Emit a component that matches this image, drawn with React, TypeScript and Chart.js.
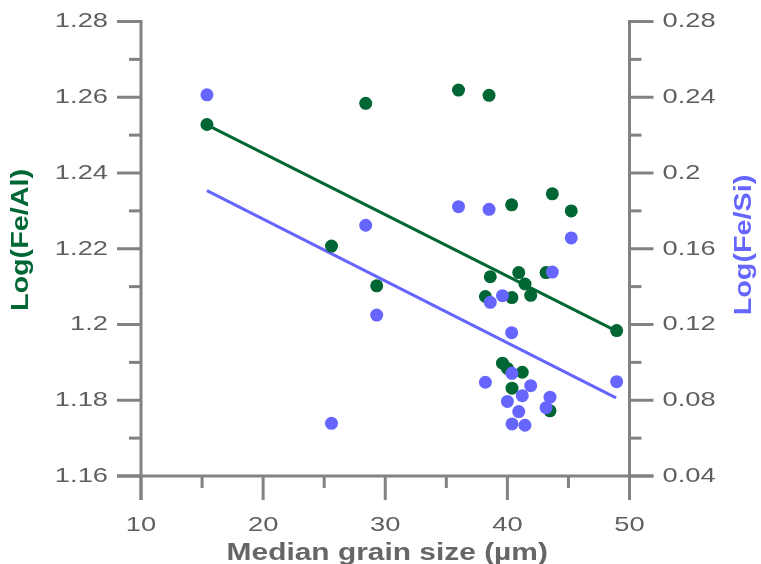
import React, { useEffect, useRef } from 'react';
import { Chart, registerables } from 'chart.js';

Chart.register(...registerables);

// Median grain size of each sample (µm)
const grainSize = [
  15.4, 25.6, 28.4, 29.3, 36.0, 38.2, 38.5, 38.6, 39.6, 40.0, 40.35,
  40.37, 40.38, 40.93, 41.22, 41.44, 41.91, 43.17, 43.49, 43.68, 45.23, 48.95,
];

// Log(Fe/Al) for each sample
const logFeAl = [
  1.2528, 1.2207, 1.2584, 1.2102, 1.2619, 1.2074, 1.2605, 1.2126, 1.1898, 1.1884, 1.2316,
  1.2071, 1.1832, 1.2137, 1.1874, 1.2107, 1.2077, 1.2137, 1.1772, 1.2345, 1.23, 1.1984,
];

// Log(Fe/Si) for each sample
const logFeSi = [
  0.2413, 0.0678, 0.1724, 0.125, 0.1822, 0.0895, 0.1808, 0.1317, 0.1352, 0.0794, 0.1157,
  0.0942, 0.0675, 0.074, 0.0824, 0.0668, 0.0877, 0.0761, 0.0816, 0.1477, 0.1657, 0.0898,
];

// Linear trend lines: end points
const trendGrain = [15.4, 48.9];
const trendFeAl = [1.2527, 1.1983];
const trendFeSi = [0.1907, 0.0813];

// Axis ticks
const xTicks = [10, 20, 30, 40, 50];
const xMinorTicks = [15, 25, 35, 45];
const feAlTicks = [1.16, 1.18, 1.2, 1.22, 1.24, 1.26, 1.28];
const feAlTickLabels = ['1.16', '1.18', '1.2', '1.22', '1.24', '1.26', '1.28'];
const feAlMinorTicks = [1.17, 1.19, 1.21, 1.23, 1.25, 1.27];
const feSiTicks = [0.04, 0.08, 0.12, 0.16, 0.2, 0.24, 0.28];
const feSiTickLabels = ['0.04', '0.08', '0.12', '0.16', '0.2', '0.24', '0.28'];
const feSiMinorTicks = [0.06, 0.1, 0.14, 0.18, 0.22, 0.26];

const GREEN = '#006633';
const BLUE = '#6666ff';
const AXIS = '#828282';
const TEXT = '#5f5f5f';
const FONT = '"Liberation Sans", Arial, sans-serif';
const TEXT_STRETCH = 1.3;

function drawText(
  ctx: CanvasRenderingContext2D,
  text: string,
  x: number,
  y: number,
  opts: { font: string; color: string; align: CanvasTextAlign; rotate?: number; stretch?: number },
) {
  ctx.save();
  ctx.translate(x, y);
  if (opts.rotate) ctx.rotate(opts.rotate);
  ctx.scale(opts.stretch ?? TEXT_STRETCH, 1);
  ctx.font = opts.font;
  ctx.fillStyle = opts.color;
  ctx.textAlign = opts.align;
  ctx.textBaseline = 'middle';
  ctx.fillText(text, 0, 0);
  ctx.restore();
}

const axesPlugin = {
  id: 'customAxes',
  beforeDatasetsDraw(chart: any) {
    const { ctx, chartArea, scales } = chart;
    const xs = scales.x;
    const yl = scales.y;
    const yr = scales.y1;
    const left = chartArea.left;
    const right = chartArea.right;
    const top = chartArea.top;
    const bottom = chartArea.bottom;
    const major = 24;
    const minor = 12;

    ctx.save();
    ctx.strokeStyle = AXIS;
    ctx.lineWidth = 3;
    ctx.lineCap = 'butt';
    const line = (x1: number, y1: number, x2: number, y2: number) => {
      ctx.beginPath();
      ctx.moveTo(x1, y1);
      ctx.lineTo(x2, y2);
      ctx.stroke();
    };

    // axis spines
    line(left, top - 1.5, left, bottom + major);
    line(right, top - 1.5, right, bottom + major);
    line(left - major, bottom, right + major, bottom);

    // left axis ticks
    feAlTicks.forEach((v) => {
      const y = yl.getPixelForValue(v);
      line(left - major, y, left, y);
    });
    feAlMinorTicks.forEach((v) => {
      const y = yl.getPixelForValue(v);
      line(left - minor, y, left, y);
    });
    // right axis ticks
    feSiTicks.forEach((v) => {
      const y = yr.getPixelForValue(v);
      line(right, y, right + major, y);
    });
    feSiMinorTicks.forEach((v) => {
      const y = yr.getPixelForValue(v);
      line(right, y, right + minor, y);
    });
    // bottom axis ticks
    xTicks.forEach((v) => {
      const x = xs.getPixelForValue(v);
      line(x, bottom, x, bottom + major);
    });
    xMinorTicks.forEach((v) => {
      const x = xs.getPixelForValue(v);
      line(x, bottom, x, bottom + minor);
    });
    ctx.restore();

    const tickFont = `21px ${FONT}`;
    feAlTicks.forEach((v, i) => {
      drawText(ctx, feAlTickLabels[i], left - 33, yl.getPixelForValue(v), { font: tickFont, color: TEXT, align: 'right' });
    });
    feSiTicks.forEach((v, i) => {
      drawText(ctx, feSiTickLabels[i], right + 33, yr.getPixelForValue(v), { font: tickFont, color: TEXT, align: 'left' });
    });
    xTicks.forEach((v) => {
      drawText(ctx, String(v), xs.getPixelForValue(v), bottom + 49, { font: tickFont, color: TEXT, align: 'center' });
    });

    const titleFont = `bold 23px ${FONT}`;
    drawText(ctx, 'Median grain size (\u00b5m)', (left + right) / 2 + 2, bottom + 78, { font: titleFont, color: '#666666', align: 'center' });
    drawText(ctx, 'Log(Fe/Al)', 22, 240, { font: titleFont, color: GREEN, align: 'center', rotate: -Math.PI / 2, stretch: 1.25 });
    drawText(ctx, 'Log(Fe/Si)', 745, 245, { font: titleFont, color: BLUE, align: 'center', rotate: -Math.PI / 2, stretch: 1.25 });
  },
};

export default function App() {
  const canvasRef = useRef<HTMLCanvasElement | null>(null);

  useEffect(() => {
    const canvas = canvasRef.current;
    if (!canvas) return;
    const chart = new Chart(canvas, {
      type: 'scatter',
      data: {
        datasets: [
          {
            label: 'Log(Fe/Si)',
            data: grainSize.map((x, i) => ({ x, y: logFeSi[i] })),
            yAxisID: 'y1',
            backgroundColor: BLUE,
            borderWidth: 0,
            pointRadius: 6.5,
            order: 0,
          },
          {
            label: 'Log(Fe/Al)',
            data: grainSize.map((x, i) => ({ x, y: logFeAl[i] })),
            yAxisID: 'y',
            backgroundColor: GREEN,
            borderWidth: 0,
            pointRadius: 6.5,
            order: 1,
          },
          {
            type: 'line',
            label: 'Fe/Al trend',
            data: trendGrain.map((x, i) => ({ x, y: trendFeAl[i] })),
            yAxisID: 'y',
            borderColor: GREEN,
            borderWidth: 3,
            pointRadius: 0,
            fill: false,
            order: 2,
          },
          {
            type: 'line',
            label: 'Fe/Si trend',
            data: trendGrain.map((x, i) => ({ x, y: trendFeSi[i] })),
            yAxisID: 'y1',
            borderColor: BLUE,
            borderWidth: 3,
            pointRadius: 0,
            fill: false,
            order: 3,
          },
        ],
      },
      options: {
        responsive: false,
        animation: false,
        layout: { padding: { left: 141, right: 131.5, top: 21.5, bottom: 88 } },
        plugins: { legend: { display: false }, tooltip: { enabled: false } },
        scales: {
          x: { type: 'linear', min: 10, max: 50, display: false },
          y: { type: 'linear', min: 1.16, max: 1.28, display: false },
          y1: { type: 'linear', min: 0.04, max: 0.28, display: false, position: 'right' },
        },
      },
      plugins: [axesPlugin],
    });
    return () => chart.destroy();
  }, []);

  return (
    <div style={{ position: 'fixed', left: 0, top: 0, width: 761, height: 564, background: '#ffffff' }}>
      <canvas ref={canvasRef} width={761} height={564} style={{ display: 'block' }} />
    </div>
  );
}
